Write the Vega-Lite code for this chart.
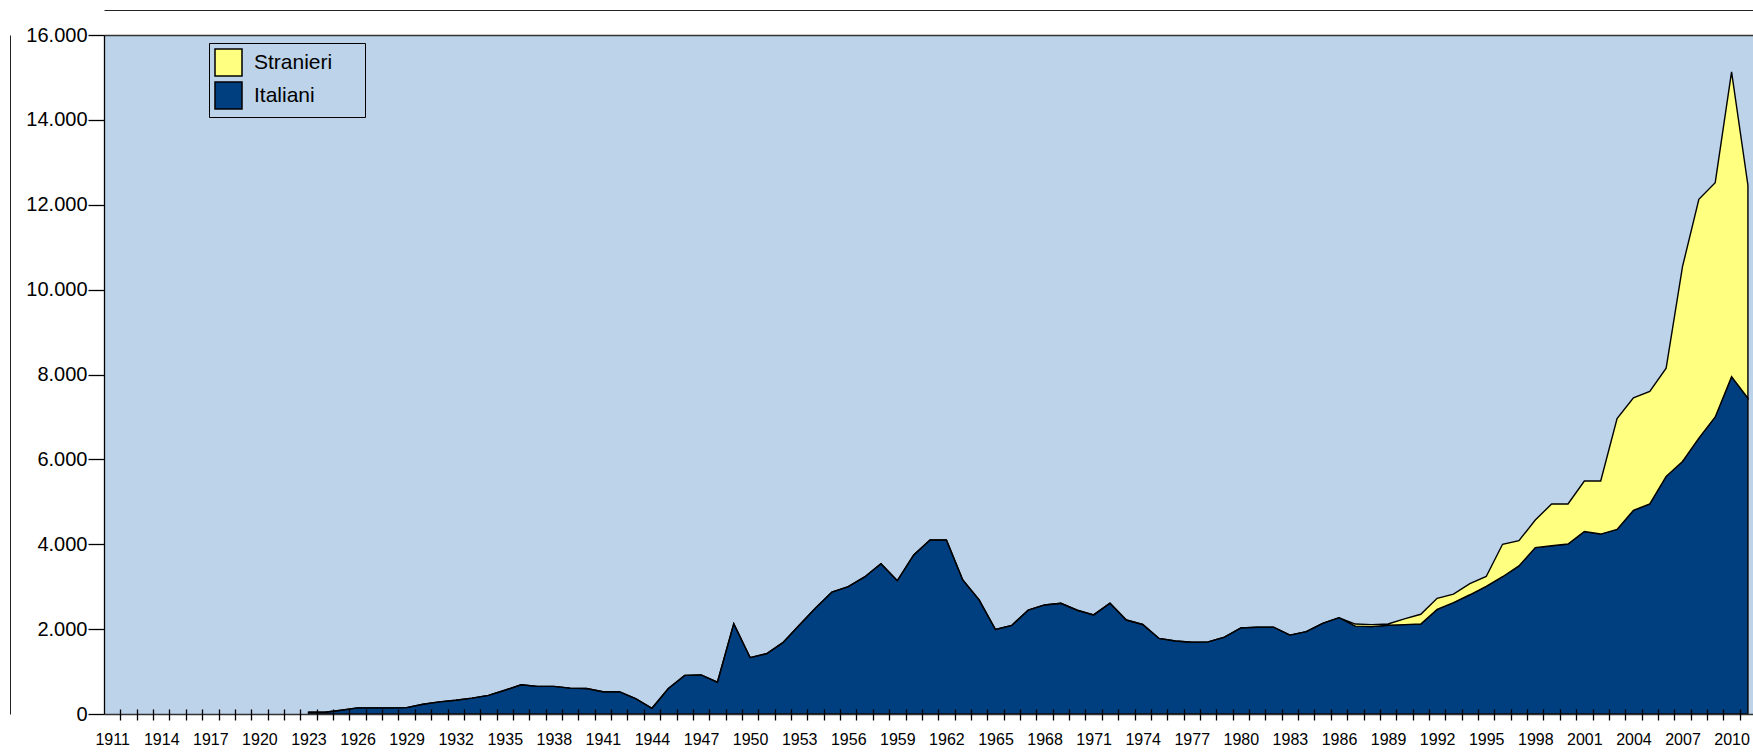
{
  "$schema": "https://vega.github.io/schema/vega-lite/v6.json",
  "width": 1649,
  "height": 679,
  "autosize": {"type": "none"},
  "padding": {"left": 104, "top": 35, "right": 0, "bottom": 42},
  "background": "white",
  "config": {"view": {"fill": "#BDD3EA", "stroke": null}, "font": "Liberation Sans"},
  "data": {"values": [
    {"anno": 1923, "serie": "Italiani", "valore": 40},
    {"anno": 1924, "serie": "Italiani", "valore": 40},
    {"anno": 1925, "serie": "Italiani", "valore": 90},
    {"anno": 1926, "serie": "Italiani", "valore": 145},
    {"anno": 1927, "serie": "Italiani", "valore": 145},
    {"anno": 1928, "serie": "Italiani", "valore": 145},
    {"anno": 1929, "serie": "Italiani", "valore": 150},
    {"anno": 1930, "serie": "Italiani", "valore": 230},
    {"anno": 1931, "serie": "Italiani", "valore": 285},
    {"anno": 1932, "serie": "Italiani", "valore": 325},
    {"anno": 1933, "serie": "Italiani", "valore": 375},
    {"anno": 1934, "serie": "Italiani", "valore": 440},
    {"anno": 1935, "serie": "Italiani", "valore": 560},
    {"anno": 1936, "serie": "Italiani", "valore": 690},
    {"anno": 1937, "serie": "Italiani", "valore": 650},
    {"anno": 1938, "serie": "Italiani", "valore": 650},
    {"anno": 1939, "serie": "Italiani", "valore": 610},
    {"anno": 1940, "serie": "Italiani", "valore": 600},
    {"anno": 1941, "serie": "Italiani", "valore": 525},
    {"anno": 1942, "serie": "Italiani", "valore": 525},
    {"anno": 1943, "serie": "Italiani", "valore": 360},
    {"anno": 1944, "serie": "Italiani", "valore": 135},
    {"anno": 1945, "serie": "Italiani", "valore": 600},
    {"anno": 1946, "serie": "Italiani", "valore": 910},
    {"anno": 1947, "serie": "Italiani", "valore": 920},
    {"anno": 1948, "serie": "Italiani", "valore": 750},
    {"anno": 1949, "serie": "Italiani", "valore": 2130},
    {"anno": 1950, "serie": "Italiani", "valore": 1330},
    {"anno": 1951, "serie": "Italiani", "valore": 1420},
    {"anno": 1952, "serie": "Italiani", "valore": 1680},
    {"anno": 1953, "serie": "Italiani", "valore": 2090},
    {"anno": 1954, "serie": "Italiani", "valore": 2500},
    {"anno": 1955, "serie": "Italiani", "valore": 2875},
    {"anno": 1956, "serie": "Italiani", "valore": 3000},
    {"anno": 1957, "serie": "Italiani", "valore": 3230},
    {"anno": 1958, "serie": "Italiani", "valore": 3540},
    {"anno": 1959, "serie": "Italiani", "valore": 3140},
    {"anno": 1960, "serie": "Italiani", "valore": 3750},
    {"anno": 1961, "serie": "Italiani", "valore": 4100},
    {"anno": 1962, "serie": "Italiani", "valore": 4100},
    {"anno": 1963, "serie": "Italiani", "valore": 3160},
    {"anno": 1964, "serie": "Italiani", "valore": 2690},
    {"anno": 1965, "serie": "Italiani", "valore": 1990},
    {"anno": 1966, "serie": "Italiani", "valore": 2090},
    {"anno": 1967, "serie": "Italiani", "valore": 2450},
    {"anno": 1968, "serie": "Italiani", "valore": 2570},
    {"anno": 1969, "serie": "Italiani", "valore": 2610},
    {"anno": 1970, "serie": "Italiani", "valore": 2445},
    {"anno": 1971, "serie": "Italiani", "valore": 2335},
    {"anno": 1972, "serie": "Italiani", "valore": 2610},
    {"anno": 1973, "serie": "Italiani", "valore": 2215},
    {"anno": 1974, "serie": "Italiani", "valore": 2110},
    {"anno": 1975, "serie": "Italiani", "valore": 1780},
    {"anno": 1976, "serie": "Italiani", "valore": 1720},
    {"anno": 1977, "serie": "Italiani", "valore": 1690},
    {"anno": 1978, "serie": "Italiani", "valore": 1700},
    {"anno": 1979, "serie": "Italiani", "valore": 1810},
    {"anno": 1980, "serie": "Italiani", "valore": 2030},
    {"anno": 1981, "serie": "Italiani", "valore": 2045},
    {"anno": 1982, "serie": "Italiani", "valore": 2045},
    {"anno": 1983, "serie": "Italiani", "valore": 1860},
    {"anno": 1984, "serie": "Italiani", "valore": 1940},
    {"anno": 1985, "serie": "Italiani", "valore": 2135},
    {"anno": 1986, "serie": "Italiani", "valore": 2270},
    {"anno": 1987, "serie": "Italiani", "valore": 2070},
    {"anno": 1988, "serie": "Italiani", "valore": 2060},
    {"anno": 1989, "serie": "Italiani", "valore": 2090},
    {"anno": 1990, "serie": "Italiani", "valore": 2105},
    {"anno": 1991, "serie": "Italiani", "valore": 2120},
    {"anno": 1992, "serie": "Italiani", "valore": 2465},
    {"anno": 1993, "serie": "Italiani", "valore": 2625},
    {"anno": 1994, "serie": "Italiani", "valore": 2810},
    {"anno": 1995, "serie": "Italiani", "valore": 3010},
    {"anno": 1996, "serie": "Italiani", "valore": 3235},
    {"anno": 1997, "serie": "Italiani", "valore": 3490},
    {"anno": 1998, "serie": "Italiani", "valore": 3920},
    {"anno": 1999, "serie": "Italiani", "valore": 3965},
    {"anno": 2000, "serie": "Italiani", "valore": 4005},
    {"anno": 2001, "serie": "Italiani", "valore": 4300},
    {"anno": 2002, "serie": "Italiani", "valore": 4240},
    {"anno": 2003, "serie": "Italiani", "valore": 4350},
    {"anno": 2004, "serie": "Italiani", "valore": 4800},
    {"anno": 2005, "serie": "Italiani", "valore": 4950},
    {"anno": 2006, "serie": "Italiani", "valore": 5600},
    {"anno": 2007, "serie": "Italiani", "valore": 5950},
    {"anno": 2008, "serie": "Italiani", "valore": 6500},
    {"anno": 2009, "serie": "Italiani", "valore": 7000},
    {"anno": 2010, "serie": "Italiani", "valore": 7950},
    {"anno": 2011, "serie": "Italiani", "valore": 7440},
    {"anno": 1986, "serie": "Stranieri", "valore": 0},
    {"anno": 1987, "serie": "Stranieri", "valore": 50},
    {"anno": 1988, "serie": "Stranieri", "valore": 45},
    {"anno": 1989, "serie": "Stranieri", "valore": 30},
    {"anno": 1990, "serie": "Stranieri", "valore": 135},
    {"anno": 1991, "serie": "Stranieri", "valore": 230},
    {"anno": 1992, "serie": "Stranieri", "valore": 260},
    {"anno": 1993, "serie": "Stranieri", "valore": 200},
    {"anno": 1994, "serie": "Stranieri", "valore": 260},
    {"anno": 1995, "serie": "Stranieri", "valore": 230},
    {"anno": 1996, "serie": "Stranieri", "valore": 765},
    {"anno": 1997, "serie": "Stranieri", "valore": 595},
    {"anno": 1998, "serie": "Stranieri", "valore": 650},
    {"anno": 1999, "serie": "Stranieri", "valore": 985},
    {"anno": 2000, "serie": "Stranieri", "valore": 945},
    {"anno": 2001, "serie": "Stranieri", "valore": 1190},
    {"anno": 2002, "serie": "Stranieri", "valore": 1250},
    {"anno": 2003, "serie": "Stranieri", "valore": 2610},
    {"anno": 2004, "serie": "Stranieri", "valore": 2650},
    {"anno": 2005, "serie": "Stranieri", "valore": 2650},
    {"anno": 2006, "serie": "Stranieri", "valore": 2550},
    {"anno": 2007, "serie": "Stranieri", "valore": 4590},
    {"anno": 2008, "serie": "Stranieri", "valore": 5630},
    {"anno": 2009, "serie": "Stranieri", "valore": 5520},
    {"anno": 2010, "serie": "Stranieri", "valore": 7180},
    {"anno": 2011, "serie": "Stranieri", "valore": 5020}
  ]},
  "layer": [
    {
      "mark": {"type": "area", "stroke": "black", "strokeWidth": 1.4, "opacity": 1, "fillOpacity": 1},
      "encoding": {
        "x": {
          "field": "anno", "type": "quantitative",
          "scale": {"domain": [1910.5, 2011.31], "nice": false, "zero": false},
          "axis": {
            "orient": "bottom",
            "values": [1911.5,1912.5,1913.5,1914.5,1915.5,1916.5,1917.5,1918.5,1919.5,1920.5,1921.5,1922.5,1923.5,1924.5,1925.5,1926.5,1927.5,1928.5,1929.5,1930.5,1931.5,1932.5,1933.5,1934.5,1935.5,1936.5,1937.5,1938.5,1939.5,1940.5,1941.5,1942.5,1943.5,1944.5,1945.5,1946.5,1947.5,1948.5,1949.5,1950.5,1951.5,1952.5,1953.5,1954.5,1955.5,1956.5,1957.5,1958.5,1959.5,1960.5,1961.5,1962.5,1963.5,1964.5,1965.5,1966.5,1967.5,1968.5,1969.5,1970.5,1971.5,1972.5,1973.5,1974.5,1975.5,1976.5,1977.5,1978.5,1979.5,1980.5,1981.5,1982.5,1983.5,1984.5,1985.5,1986.5,1987.5,1988.5,1989.5,1990.5,1991.5,1992.5,1993.5,1994.5,1995.5,1996.5,1997.5,1998.5,1999.5,2000.5,2001.5,2002.5,2003.5,2004.5,2005.5,2006.5,2007.5,2008.5,2009.5,2010.5],
            "offset": -5,
            "domain": false,
            "grid": false,
            "ticks": true,
            "tickSize": 11,
            "tickColor": "black",
            "tickWidth": 1.3,
            "labelExpr": "(datum.value - 1911.5) % 3 == 0 ? format(datum.value - 0.5, 'd') : ''",
            "labelOffset": -8.18,
            "labelFont": "Liberation Sans Narrow, Liberation Sans",
            "labelFontSize": 16,
            "labelColor": "black",
            "labelPadding": 11,
            "labelOverlap": false,
            "labelFlush": false,
            "labelBound": false,
            "title": null,
            "zindex": 1
          }
        },
        "y": {
          "field": "valore", "type": "quantitative", "stack": "zero",
          "scale": {"domain": [0, 16000], "nice": false},
          "axis": {
            "orient": "left",
            "values": [0, 2000, 4000, 6000, 8000, 10000, 12000, 14000, 16000],
            "domain": true,
            "domainColor": "black",
            "domainWidth": 1.3,
            "ticks": true,
            "tickSize": 16,
            "tickColor": "black",
            "tickWidth": 1.3,
            "labelExpr": "replace(format(datum.value, ','), ',', '.')",
            "labelFont": "Liberation Sans",
            "labelFontSize": 20,
            "labelColor": "black",
            "labelPadding": 1,
            "grid": true,
            "gridColor": {"condition": {"test": "datum.value == 0 || datum.value == 16000", "value": "#333333"}, "value": "transparent"},
            "gridWidth": 1.5,
            "title": null,
            "zindex": 1
          }
        },
        "color": {
          "field": "serie", "type": "nominal",
          "scale": {"domain": ["Stranieri", "Italiani"], "range": ["#FFFF80", "#003F7F"]},
          "legend": {
            "orient": "none",
            "legendX": 105,
            "legendY": 8,
            "title": " ",
            "titleOrient": "right",
            "titlePadding": 28,
            "titleFontSize": 20,
            "titleColor": "transparent",
            "symbolType": "square",
            "symbolSize": 729,
            "symbolStrokeColor": "black",
            "symbolStrokeWidth": 1.5,
            "symbolOpacity": 1,
            "labelFont": "Liberation Sans",
            "labelFontSize": 21,
            "labelColor": "black",
            "labelOffset": 11,
            "rowPadding": 0,
            "padding": 5,
            "strokeColor": "black",
            "fillColor": "#BDD3EA"
          }
        },
        "order": {"field": "serie", "sort": "ascending"}
      }
    },
    {
      "mark": {"type": "point", "opacity": 0},
      "encoding": {
        "x": {"datum": 1911, "type": "quantitative",
          "axis": {"orient": "top", "offset": 25, "domain": true, "domainColor": "#222222", "domainWidth": 1, "ticks": false, "labels": false, "grid": false, "title": null}},
        "y": {"datum": 0, "type": "quantitative",
          "axis": {"orient": "left", "offset": 94, "domain": true, "domainColor": "#222222", "domainWidth": 1, "ticks": false, "labels": false, "grid": false, "title": null}}
      }
    }
  ],
  "resolve": {"axis": {"x": "independent", "y": "independent"}}
}
